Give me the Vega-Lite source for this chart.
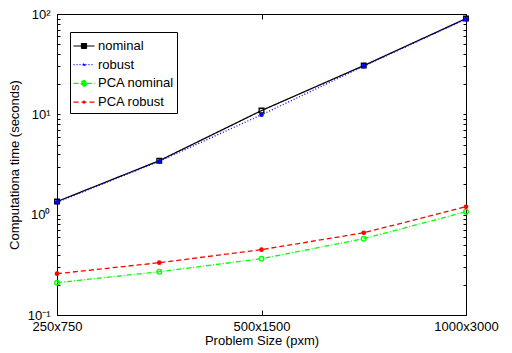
{
  "$schema": "https://vega.github.io/schema/vega-lite/v6.json",
  "width": 409,
  "height": 301,
  "autosize": {"type": "none"},
  "padding": {"left": 57, "top": 14, "right": 46, "bottom": 38},
  "background": "white",
  "config": {
    "view": {"stroke": "black", "strokeWidth": 1},
    "font": "Liberation Sans",
    "axis": {"grid": false, "domain": false, "tickColor": "black", "labelColor": "black", "titleColor": "black", "labelFont": "Liberation Sans", "titleFont": "Liberation Sans", "titleFontWeight": "normal"}
  },
  "data": {
    "values": [
      {"size": 1, "series": "nominal", "time": 1.35},
      {"size": 2, "series": "nominal", "time": 3.45},
      {"size": 3, "series": "nominal", "time": 10.9},
      {"size": 4, "series": "nominal", "time": 30.6},
      {"size": 5, "series": "nominal", "time": 90},
      {"size": 1, "series": "robust", "time": 1.33},
      {"size": 2, "series": "robust", "time": 3.4},
      {"size": 3, "series": "robust", "time": 9.9},
      {"size": 4, "series": "robust", "time": 30.2},
      {"size": 5, "series": "robust", "time": 89},
      {"size": 1, "series": "PCA nominal", "time": 0.21},
      {"size": 2, "series": "PCA nominal", "time": 0.27},
      {"size": 3, "series": "PCA nominal", "time": 0.364},
      {"size": 4, "series": "PCA nominal", "time": 0.576},
      {"size": 5, "series": "PCA nominal", "time": 1.07},
      {"size": 1, "series": "PCA robust", "time": 0.258},
      {"size": 2, "series": "PCA robust", "time": 0.332},
      {"size": 3, "series": "PCA robust", "time": 0.448},
      {"size": 4, "series": "PCA robust", "time": 0.66},
      {"size": 5, "series": "PCA robust", "time": 1.2}
    ]
  },
  "layer": [
    {
      "mark": {"type": "line", "strokeWidth": 1.3},
      "encoding": {
        "x": {"field": "size", "type": "quantitative", "scale": {"domain": [1, 5], "nice": false, "zero": false},
          "axis": {"orient": "bottom", "values": [1, 3, 5], "tickSize": -5, "labelPadding": 10, "labelFontSize": 13, "labelExpr": "datum.value == 1 ? '250x750' : datum.value == 3 ? '500x1500' : '1000x3000'", "labelFlush": false, "title": "Problem Size (pxm)", "titleFontSize": 13, "titlePadding": 1}},
        "y": {"field": "time", "type": "quantitative", "scale": {"type": "log", "domain": [0.1, 100], "nice": false},
          "axis": {"orient": "left", "values": [0.1,0.2,0.3,0.4,0.5,0.6,0.7,0.8,0.9,1,2,3,4,5,6,7,8,9,10,20,30,40,50,60,70,80,90,100], "tickSize": -3, "labelPadding": 10, "labelFontSize": 13, "labelExpr": "datum.value > 99 ? '10²' : (datum.value > 9.9 && datum.value < 10.1) ? '10¹' : (datum.value > 0.99 && datum.value < 1.01) ? '10⁰' : datum.value < 0.101 ? '10⁻¹' : ''", "title": "Computationa time (seconds)", "titleFontSize": 13, "titlePadding": 6}},
        "color": {"field": "series", "type": "nominal", "scale": {"domain": ["nominal", "robust", "PCA nominal", "PCA robust"], "range": ["#000000", "#0000ff", "#00ff00", "#ff0000"]},
          "legend": {"title": null, "orient": "none", "legendX": 13, "legendY": 18, "strokeColor": "black", "fillColor": "white", "padding": 3, "labelFontSize": 13, "labelColor": "black", "symbolSize": 400, "symbolStrokeWidth": 1.2, "symbolOpacity": 1, "symbolFillColor": "transparent", "rowPadding": 0.7, "labelOffset": 3,
            "encode": {"symbols": {"update": {"fill": {"value": "transparent"}}}}}},
        "strokeDash": {"field": "series", "type": "nominal", "scale": {"domain": ["nominal", "robust", "PCA nominal", "PCA robust"], "range": [[1, 0], [1, 2], [5, 2, 1, 2], [5, 3]]}, "legend": {"title": null}}
      }
    },
    {
      "transform": [{"filter": "false"}],
      "mark": {"type": "point", "filled": false, "opacity": 1, "strokeWidth": 1.2},
      "encoding": {
        "x": {"field": "size", "type": "quantitative", "axis": null},
        "y": {"field": "time", "type": "quantitative", "axis": null},
        "color": {"field": "series", "type": "nominal"},
        "strokeDash": {"field": "series", "type": "nominal"},
        "shape": {"field": "series", "type": "nominal", "legend": {"title": null, "encode": {"symbols": {"update": {"fill": {"value": "transparent"}}}}},
          "scale": {"domain": ["nominal", "robust", "PCA nominal", "PCA robust"],
            "range": [
              "M-1.05,0H-0.25M0.25,0H1.05M-0.25,-0.25H0.25V0.25H-0.25Z",
              "M-1.05,0H1.05M0.1,0A0.1,0.1 0 1,1 -0.1,0A0.1,0.1 0 1,1 0.1,0Z",
              "M-1.05,0H-0.28M0.28,0H1.05M0.28,0A0.28,0.28 0 1,1 -0.28,0A0.28,0.28 0 1,1 0.28,0Z",
              "M-1.05,0H1.05M0.1,0A0.1,0.1 0 1,1 -0.1,0A0.1,0.1 0 1,1 0.1,0Z"
            ]}}
      }
    },
    {
      "transform": [{"filter": "datum.series == 'nominal'"}],
      "mark": {"type": "point", "filled": false, "shape": "square", "opacity": 1, "strokeWidth": 1.3},
      "encoding": {
        "x": {"field": "size", "type": "quantitative", "axis": {"orient": "top", "values": [1, 3, 5], "tickSize": -5, "labels": false, "title": null}},
        "y": {"field": "time", "type": "quantitative", "axis": {"orient": "right", "values": [0.1,0.2,0.3,0.4,0.5,0.6,0.7,0.8,0.9,1,2,3,4,5,6,7,8,9,10,20,30,40,50,60,70,80,90,100], "tickSize": -3, "labels": false, "title": null}},
        "color": {"field": "series", "type": "nominal", "legend": null},
        "size": {"value": 22}
      }
    },
    {
      "transform": [{"filter": "datum.series == 'PCA nominal'"}],
      "mark": {"type": "point", "filled": false, "shape": "circle", "opacity": 1, "strokeWidth": 1.3},
      "encoding": {
        "x": {"field": "size", "type": "quantitative", "axis": null},
        "y": {"field": "time", "type": "quantitative", "axis": null},
        "color": {"field": "series", "type": "nominal", "legend": null},
        "size": {"value": 22}
      }
    },
    {
      "transform": [{"filter": "datum.series == 'robust' || datum.series == 'PCA robust'"}],
      "mark": {"type": "point", "filled": true, "shape": "circle", "opacity": 1},
      "encoding": {
        "x": {"field": "size", "type": "quantitative", "axis": null},
        "y": {"field": "time", "type": "quantitative", "axis": null},
        "color": {"field": "series", "type": "nominal", "legend": null},
        "size": {"value": 22}
      }
    }
  ],
  "resolve": {"axis": {"x": "independent", "y": "independent"}}
}
